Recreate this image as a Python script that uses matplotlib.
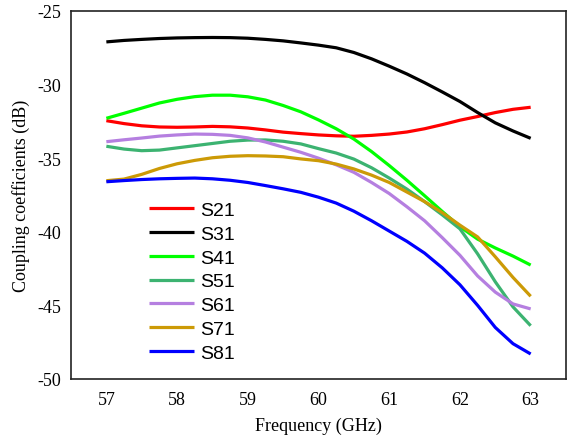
import matplotlib
matplotlib.use("Agg")
import matplotlib.pyplot as plt

freq = [57.0, 57.25, 57.5, 57.75, 58.0, 58.25, 58.5, 58.75, 59.0, 59.25, 59.5, 59.75,
        60.0, 60.25, 60.5, 60.75, 61.0, 61.25, 61.5, 61.75, 62.0, 62.25, 62.5, 62.75, 63.0]

s21 = [-32.45, -32.65, -32.8, -32.88, -32.9, -32.88, -32.84, -32.87, -32.95, -33.08, -33.23, -33.33,
       -33.42, -33.48, -33.51, -33.45, -33.36, -33.22, -33.0, -32.72, -32.42, -32.17, -31.9, -31.68, -31.54]
s31 = [-27.1, -27.0, -26.93, -26.87, -26.83, -26.81, -26.8, -26.81, -26.85, -26.93, -27.03, -27.17,
       -27.32, -27.5, -27.82, -28.25, -28.75, -29.28, -29.87, -30.5, -31.15, -31.9, -32.6, -33.15, -33.65]
s41 = [-32.29, -31.95, -31.6, -31.25, -31.0, -30.82, -30.72, -30.72, -30.83, -31.05, -31.42, -31.85,
       -32.4, -33.0, -33.7, -34.55, -35.5, -36.5, -37.55, -38.62, -39.65, -40.5, -41.1, -41.65, -42.26]
s51 = [-34.19, -34.38, -34.49, -34.45, -34.3, -34.15, -34.0, -33.85, -33.77, -33.76, -33.85, -34.03,
       -34.35, -34.65, -35.06, -35.65, -36.35, -37.1, -37.95, -38.85, -39.8, -41.5, -43.4, -45.1, -46.38]
s61 = [-33.88, -33.75, -33.63, -33.5, -33.42, -33.36, -33.38, -33.45, -33.62, -33.9, -34.25, -34.6,
       -35.0, -35.45, -35.96, -36.65, -37.4, -38.3, -39.25, -40.4, -41.6, -43.0, -44.1, -44.9, -45.24]
s71 = [-36.53, -36.42, -36.1, -35.7, -35.38, -35.15, -34.97, -34.87, -34.83, -34.85, -34.9, -35.05,
       -35.17, -35.4, -35.73, -36.15, -36.65, -37.3, -37.95, -38.7, -39.55, -40.35, -41.7, -43.1, -44.38]
s81 = [-36.6, -36.52, -36.45, -36.4, -36.37, -36.35, -36.4, -36.5, -36.65, -36.86, -37.08, -37.32,
       -37.65, -38.05, -38.6, -39.25, -39.95, -40.65, -41.45, -42.45, -43.6, -45.0, -46.5, -47.6, -48.3]

labels = ["S21", "S31", "S41", "S51", "S61", "S71", "S81"]
colors = ["#ff0000", "#000000", "#00ff00", "#3cb371", "#b57fe0", "#cc9a06", "#0000ff"]
series = [s21, s31, s41, s51, s61, s71, s81]

xticks = [57, 58, 59, 60, 61, 62, 63]
yticks = [-50, -45, -40, -35, -30, -25]

fig = plt.figure(figsize=(5.79, 4.39), dpi=100)
ax = fig.add_axes([0.1226, 0.1344, 0.855, 0.8383])

for y, c, lab in zip(series, colors, labels):
    ax.plot(freq, y, color=c, lw=2.3, label=lab, solid_capstyle="butt",
            solid_joinstyle="round")

ax.set_xlim(56.5, 63.5)
ax.set_ylim(-50, -25)
ax.set_xticks(xticks)
ax.set_yticks(yticks)
serif = "Liberation Serif"
ax.set_xticklabels([str(t) for t in xticks], fontfamily=serif, fontsize=13)
ax.set_yticklabels([str(t) for t in yticks], fontfamily=serif, fontsize=13)
ax.tick_params(length=0, pad=7)
ax.tick_params(axis="x", pad=9)
ax.set_xlabel("Frequency (GHz)", fontfamily=serif, fontsize=13, labelpad=6)
ax.set_ylabel("Coupling coefficients (dB)", fontfamily=serif, fontsize=13, labelpad=5)
for sp in ax.spines.values():
    sp.set_linewidth(1.2)
    sp.set_color("#222222")

leg = ax.legend(loc="upper left", bbox_to_anchor=(0.13, 0.52), frameon=False,
                prop={"family": "Liberation Sans", "size": 14},
                handlelength=2.3, handletextpad=0.35, labelspacing=0.32,
                borderpad=0.2)

fig.savefig("out.png", dpi=100)
